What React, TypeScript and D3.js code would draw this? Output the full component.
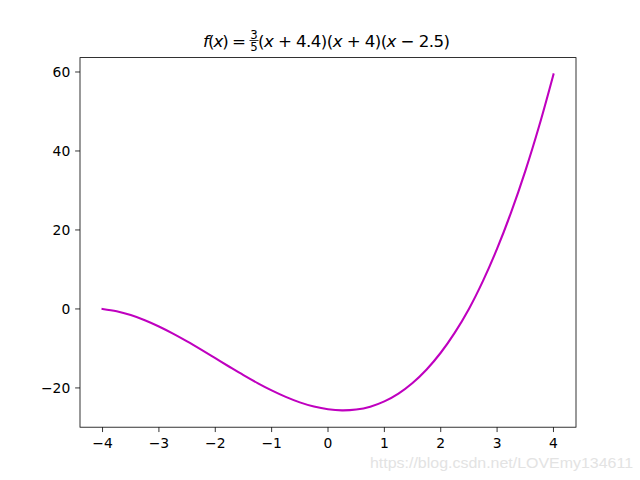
import React from "react";
import * as d3 from "d3";

const xs = [-4, -3.75, -3.5, -3.25, -3, -2.75, -2.5, -2.25, -2, -1.75, -1.5, -1.25, -1, -0.75, -0.5, -0.25, 0, 0.25, 0.5, 0.75, 1, 1.25, 1.5, 1.75, 2, 2.25, 2.5, 2.75, 3, 3.25, 3.5, 3.75, 4];
const ys = [0, -0.59, -1.56, -2.87, -4.45, -6.26, -8.23, -10.32, -12.48, -14.64, -16.76, -18.77, -20.63, -22.27, -23.66, -24.73, -25.42, -25.69, -25.48, -24.74, -23.4, -21.43, -18.75, -15.32, -11.09, -6.0, 0, 7.11, 15.26, 24.51, 34.91, 46.52, 59.39];
const xTicks = [-4, -3, -2, -1, 0, 1, 2, 3, 4];
const yTicks = [-20, 0, 20, 40, 60];

const W = 640;
const H = 480;
const L = 80;
const R = 576;
const T = 57.6;
const B = 427.2;
const font = "DejaVu Sans, sans-serif";

function fmt(v: number) {
  return v < 0 ? "\u2212" + Math.abs(v) : String(v);
}

export default function App() {
  const xmin = d3.min(xs)!, xmax = d3.max(xs)!;
  const ymin = d3.min(ys)!, ymax = d3.max(ys)!;
  const xr = xmax - xmin, yr = ymax - ymin;
  const x = d3.scaleLinear().domain([xmin - 0.05 * xr, xmax + 0.05 * xr]).range([L, R]);
  const y = d3.scaleLinear().domain([ymin - 0.05 * yr, ymax + 0.05 * yr]).range([B, T]);
  const pts = xs.map((v, i) => [v, ys[i]] as [number, number]);
  const line = d3.line<[number, number]>().x(d => x(d[0])).y(d => y(d[1])).curve(d3.curveCatmullRom);
  const tl = 4.86;
  return (
    <svg width={W} height={H} style={{ position: "absolute", left: 0, top: 0, background: "#fff" }} fontFamily={font}>
      <rect x={0} y={0} width={W} height={H} fill="#fff" />
      <path d={line(pts) || ""} fill="none" stroke="#bf00bf" strokeWidth={2.08} strokeLinejoin="round" strokeLinecap="square" />
      <rect x={L} y={T} width={R - L} height={B - T} fill="none" stroke="#000" strokeWidth={0.8} />
      {xTicks.map(t => (
        <g key={"x" + t}>
          <line x1={x(t)} x2={x(t)} y1={B} y2={B + tl} stroke="#000" strokeWidth={0.8} />
          <text x={x(t)} y={448} textAnchor="middle" fontSize={13.89} fill="#000">{fmt(t)}</text>
        </g>
      ))}
      {yTicks.map(t => (
        <g key={"y" + t}>
          <line x1={L - tl} x2={L} y1={y(t)} y2={y(t)} stroke="#000" strokeWidth={0.8} />
          <text x={L - 2 * tl} y={y(t) + 5} textAnchor="end" fontSize={13.89} fill="#000">{fmt(t)}</text>
        </g>
      ))}
      <text x={203} y={47} fontSize={16.67} fill="#000" textLength={43} lengthAdjust="spacing">
        <tspan fontStyle="italic">f</tspan>(<tspan fontStyle="italic">x</tspan>) =
      </text>
      <text x={254} y={38.5} textAnchor="middle" fontSize={11.7} fill="#000">3</text>
      <line x1={249.5} x2={258.5} y1={40.5} y2={40.5} stroke="#000" strokeWidth={0.8} />
      <text x={254} y={51} textAnchor="middle" fontSize={11.7} fill="#000">5</text>
      <text x={258} y={47} fontSize={16.67} fill="#000" textLength={192} lengthAdjust="spacing">
        (<tspan fontStyle="italic">x</tspan> + 4.4)(<tspan fontStyle="italic">x</tspan> + 4)(<tspan fontStyle="italic">x</tspan> {"\u2212"} 2.5)
      </text>
      <text x={633} y={468} textAnchor="end" fontSize={15.5} fill="#e3e3e3" fontFamily="Liberation Sans, Arial, sans-serif" textLength={263} lengthAdjust="spacingAndGlyphs">
        https://blog.csdn.net/LOVEmy134611
      </text>
    </svg>
  );
}
